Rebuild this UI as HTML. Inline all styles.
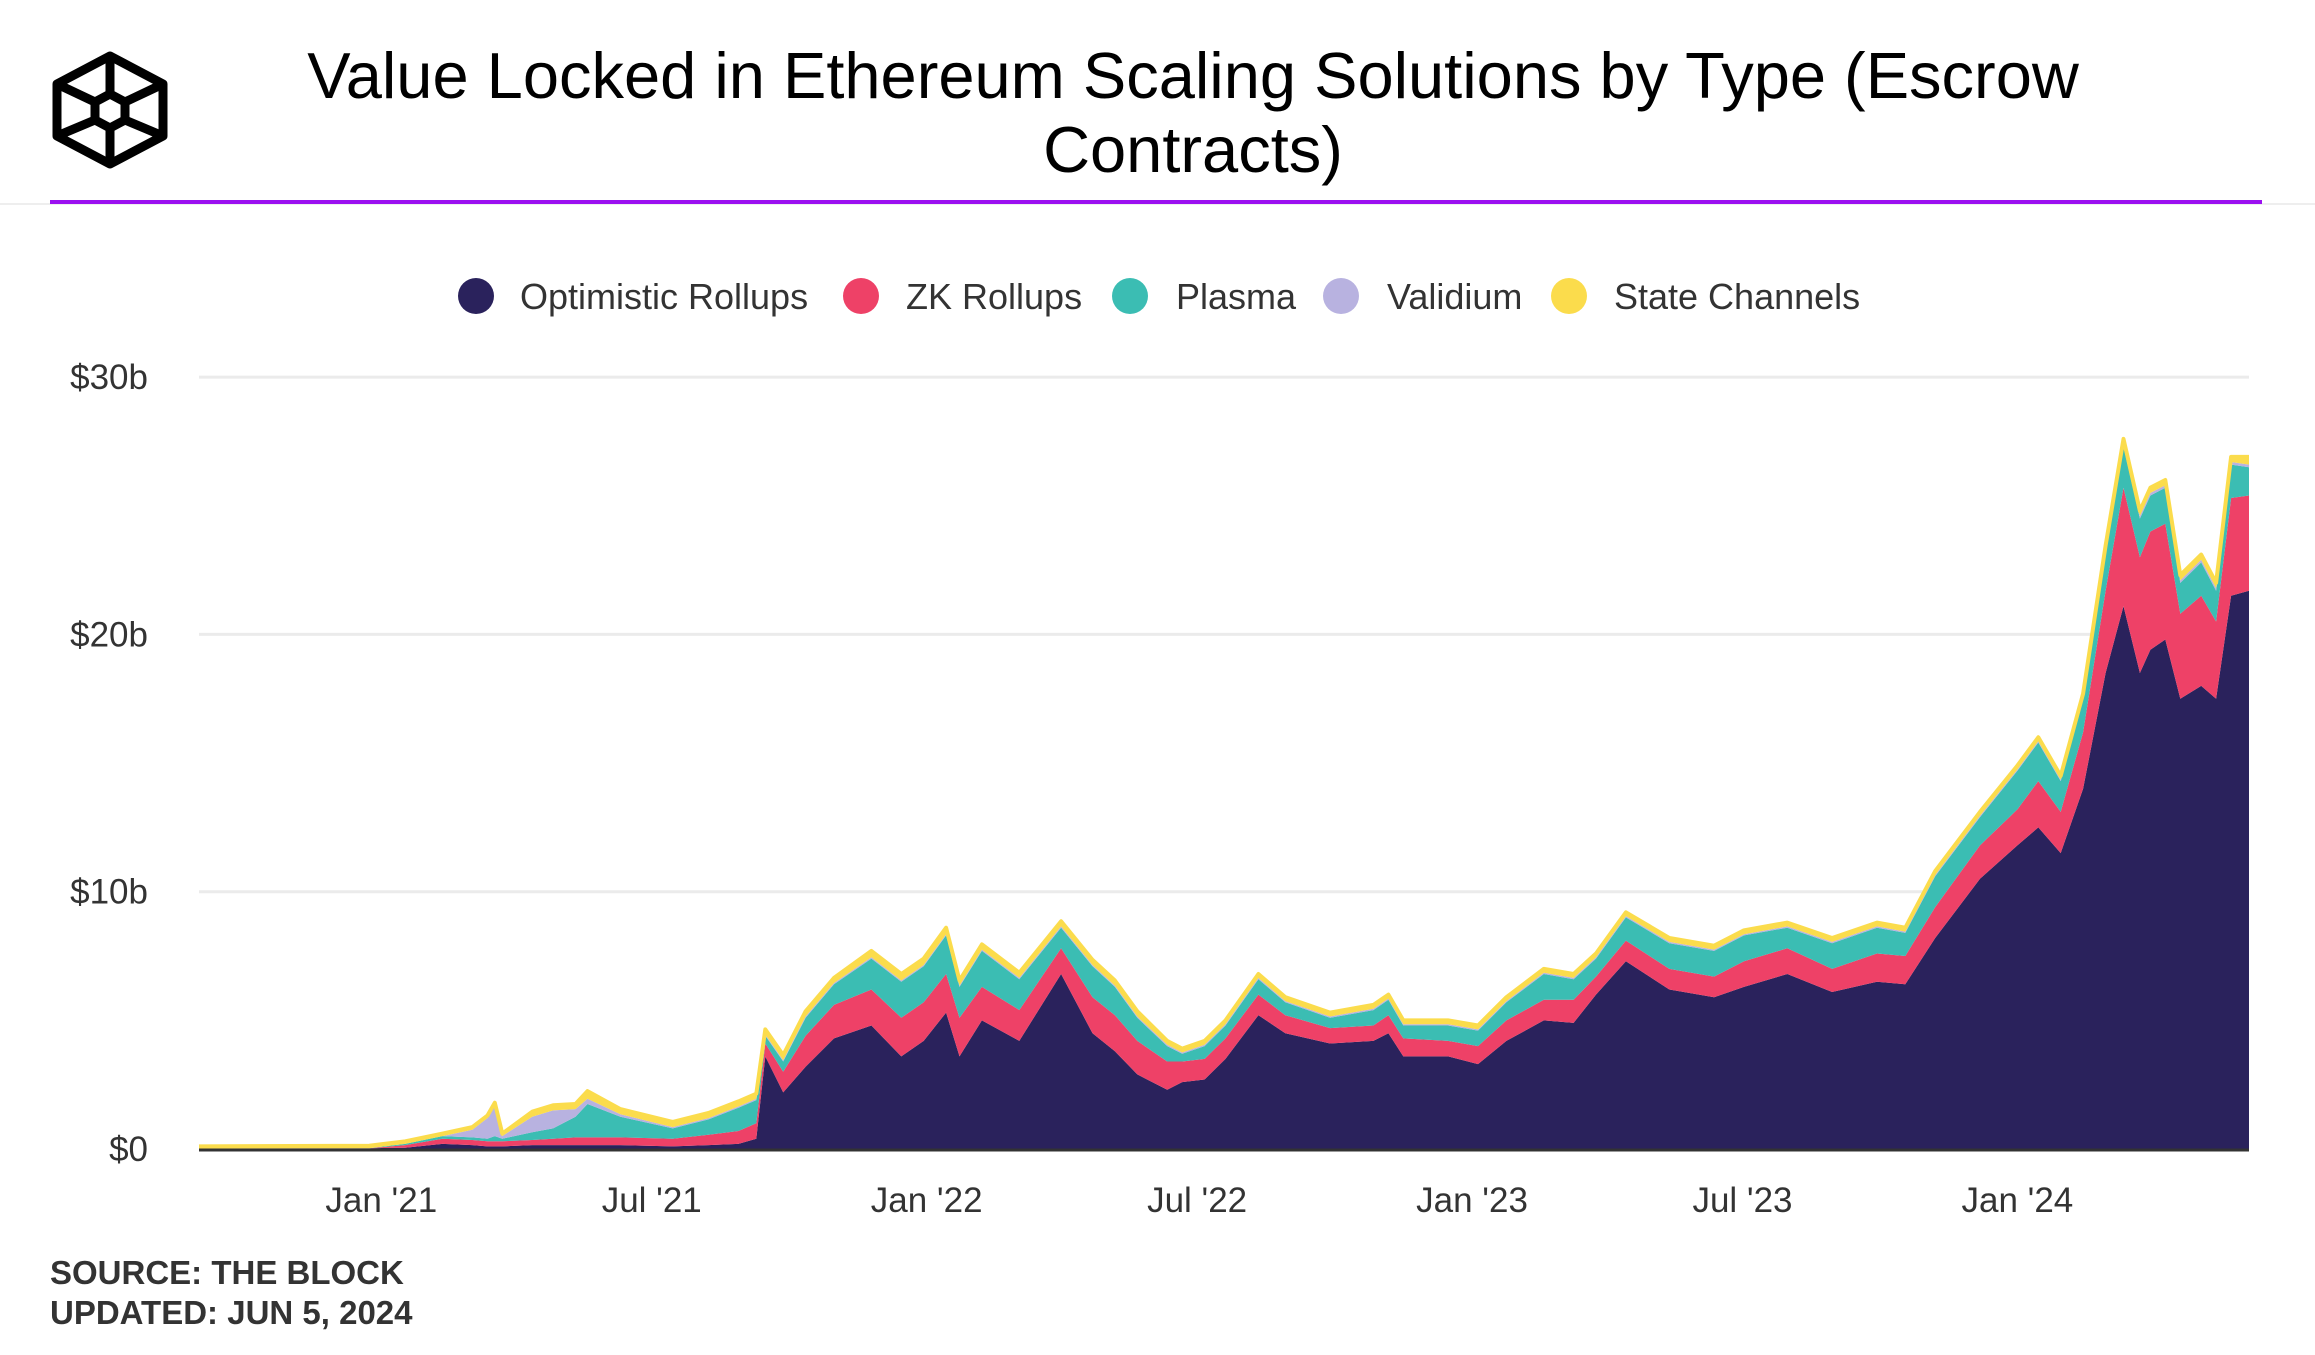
<!DOCTYPE html>
<html><head><meta charset="utf-8"><style>
body{margin:0;background:#fff;width:2315px;height:1350px;overflow:hidden;font-family:"Liberation Sans",sans-serif;}
</style></head><body>
<svg width="2315" height="1350" xmlns="http://www.w3.org/2000/svg">
<g fill="none" stroke="#000" stroke-width="9" stroke-linejoin="round">
<polygon points="110,56 163,84 163,136 110,164 57,136 57,84"/>
<line x1="110" y1="56" x2="110" y2="94"/><line x1="110" y1="128" x2="110" y2="164"/>
<line x1="57" y1="84" x2="95" y2="102"/><line x1="163" y1="84" x2="125" y2="102"/>
<line x1="57" y1="136" x2="95" y2="120"/><line x1="163" y1="136" x2="125" y2="120"/>
<polygon points="110,94 125,102 125,120 110,128 95,120 95,102" fill="#fff"/>
</g>
<text x="1193" y="98" text-anchor="middle" font-size="65" fill="#000">Value Locked in Ethereum Scaling Solutions by Type (Escrow</text>
<text x="1193" y="172" text-anchor="middle" font-size="65" fill="#000">Contracts)</text>
<line x1="0" y1="204" x2="2315" y2="204" stroke="#eee" stroke-width="2"/>
<line x1="50" y1="202" x2="2262" y2="202" stroke="#9b10f0" stroke-width="4"/>
<g font-size="36" fill="#333">
<g><circle cx="476" cy="296" r="18" fill="#2a225c"/><text x="520" y="309">Optimistic Rollups</text></g>
<g><circle cx="861" cy="296" r="18" fill="#ee4167"/><text x="906" y="309">ZK Rollups</text></g>
<g><circle cx="1130" cy="296" r="18" fill="#3bbdb3"/><text x="1176" y="309">Plasma</text></g>
<g><circle cx="1341" cy="296" r="18" fill="#b8b2e0"/><text x="1387" y="309">Validium</text></g>
<g><circle cx="1569" cy="296" r="18" fill="#fbdc4c"/><text x="1614" y="309">State Channels</text></g>
</g>
<g id="grid"></g><g id="areas"></g><g id="axes"></g>
<text x="50" y="1284" font-size="33" font-weight="bold" fill="#333">SOURCE: THE BLOCK</text>
<text x="50" y="1324" font-size="33" font-weight="bold" fill="#333">UPDATED: JUN 5, 2024</text>
</svg>
<script>
const dates=["2020-09-01","2020-12-24","2021-01-17","2021-02-11","2021-03-03","2021-03-13","2021-03-18","2021-03-23","2021-04-12","2021-04-26","2021-05-11","2021-05-19","2021-06-10","2021-07-15","2021-08-08","2021-08-28","2021-09-09","2021-09-15","2021-09-27","2021-10-12","2021-10-31","2021-11-25","2021-12-15","2021-12-30","2022-01-14","2022-01-23","2022-02-07","2022-03-04","2022-04-01","2022-04-22","2022-05-07","2022-05-22","2022-06-11","2022-06-21","2022-07-06","2022-07-20","2022-08-11","2022-08-29","2022-09-28","2022-10-27","2022-11-06","2022-11-16","2022-12-16","2023-01-05","2023-01-24","2023-02-18","2023-03-10","2023-03-25","2023-04-14","2023-05-13","2023-06-12","2023-07-02","2023-07-31","2023-08-30","2023-09-29","2023-10-18","2023-11-07","2023-12-07","2024-01-01","2024-01-15","2024-01-30","2024-02-14","2024-02-29","2024-03-12","2024-03-23","2024-03-30","2024-04-09","2024-04-19","2024-05-03","2024-05-13","2024-05-23","2024-06-04"];
const optimistic=[0.02,0.03,0.05,0.2,0.15,0.1,0.1,0.1,0.15,0.15,0.15,0.15,0.15,0.1,0.15,0.2,0.4,3.6,2.2,3.2,4.3,4.8,3.6,4.2,5.3,3.6,5.0,4.2,6.8,4.5,3.8,2.9,2.3,2.6,2.7,3.5,5.2,4.5,4.1,4.2,4.5,3.6,3.6,3.3,4.2,5.0,4.9,6.0,7.3,6.2,5.9,6.3,6.8,6.1,6.5,6.4,8.2,10.5,11.8,12.5,11.5,14.0,18.5,21.1,18.5,19.4,19.8,17.5,18.0,17.5,21.5,21.7];
const zk=[0,0,0.1,0.2,0.2,0.2,0.2,0.2,0.2,0.25,0.3,0.3,0.3,0.3,0.4,0.5,0.6,0.5,0.8,1.2,1.3,1.4,1.5,1.5,1.5,1.5,1.3,1.2,1.0,1.4,1.4,1.3,1.1,0.8,0.8,0.8,0.8,0.7,0.6,0.6,0.7,0.7,0.6,0.7,0.8,0.8,0.9,0.7,0.8,0.8,0.8,1.0,1.0,0.9,1.1,1.1,1.2,1.3,1.4,1.8,1.6,2.2,3.2,4.6,4.5,4.6,4.5,3.3,3.5,3.0,3.8,3.7];
const plasma=[0,0,0.05,0.1,0.1,0.1,0.2,0.1,0.3,0.4,0.8,1.3,0.8,0.4,0.6,0.9,0.9,0.3,0.4,0.7,0.8,1.2,1.4,1.4,1.5,1.2,1.4,1.2,0.8,1.2,1.1,0.9,0.6,0.3,0.5,0.5,0.6,0.5,0.4,0.6,0.6,0.5,0.6,0.6,0.7,1.0,0.8,0.7,0.9,1.0,1.0,1.0,0.8,1.0,1.0,0.9,1.2,1.1,1.5,1.5,1.2,1.3,1.5,1.6,1.5,1.4,1.4,1.2,1.3,1.2,1.3,1.1];
const validium=[0,0,0,0,0.3,0.8,1.2,0.1,0.6,0.7,0.3,0.2,0.1,0.05,0.05,0.05,0.05,0.05,0.05,0.05,0.05,0.05,0.05,0.05,0.05,0.05,0.05,0.05,0.05,0.05,0.05,0.05,0.05,0.05,0.05,0.05,0.05,0.05,0.05,0.05,0.05,0.05,0.05,0.05,0.05,0.05,0.05,0.05,0.05,0.05,0.05,0.05,0.05,0.05,0.05,0.05,0.05,0.05,0.05,0.05,0.05,0.05,0.05,0.1,0.1,0.1,0.1,0.1,0.1,0.1,0.1,0.1];
const stateChannels=[0.08,0.1,0.1,0.1,0.1,0.1,0.1,0.1,0.2,0.2,0.2,0.3,0.2,0.2,0.2,0.2,0.2,0.2,0.2,0.2,0.2,0.25,0.25,0.25,0.25,0.2,0.2,0.2,0.2,0.2,0.2,0.2,0.15,0.15,0.15,0.15,0.15,0.15,0.15,0.15,0.15,0.15,0.15,0.15,0.15,0.15,0.15,0.15,0.15,0.15,0.15,0.15,0.15,0.15,0.15,0.15,0.15,0.15,0.15,0.15,0.15,0.15,0.2,0.2,0.2,0.2,0.2,0.2,0.2,0.2,0.2,0.3];
const yTicks=[0,10,20,30];
const yTickLabels=["$0","$10b","$20b","$30b"];
const xTicks=["2021-01-01","2021-07-01","2022-01-01","2022-07-01","2023-01-01","2023-07-01","2024-01-01"];
const xTickLabels=["Jan '21","Jul '21","Jan '22","Jul '22","Jan '23","Jul '23","Jan '24"];

const NS="http://www.w3.org/2000/svg";
const X0=199,X1=2249,Y0=1149,PXB=25.73;
const t0=Date.parse("2020-09-01"),t1=Date.parse("2024-06-04");
function xScale(d){return X0+(Date.parse(d)-t0)/(t1-t0)*(X1-X0);}
function yScale(v){return Y0-v*PXB;}
function mk(tag,attrs,parent){const e=document.createElementNS(NS,tag);for(const k in attrs)e.setAttribute(k,attrs[k]);parent.appendChild(e);return e;}
const grid=document.getElementById('grid'),areas=document.getElementById('areas'),axes=document.getElementById('axes');
yTicks.forEach((v,i)=>{
  if(v>0){const g=mk('line',{x1:X0,x2:X1,y1:yScale(v),y2:yScale(v),stroke:'#ebebeb','stroke-width':3},grid);
  
  }
  const t=mk('text',{x:148,y:yScale(v)+12,'text-anchor':'end','font-size':35,fill:'#333'},axes);
  t.textContent=yTickLabels[i];
  
  
});
xTicks.forEach((d,i)=>{
  const t=mk('text',{x:xScale(d),y:1212,'text-anchor':'middle','font-size':35,fill:'#333'},axes);
  t.textContent=xTickLabels[i];
  
  
});
const series=[["optimistic",optimistic,"#2a225c"],["zk",zk,"#ee4167"],["plasma",plasma,"#3bbdb3"],["validium",validium,"#b8b2e0"],["state-channels",stateChannels,"#fbdc4c"]];
let base=dates.map(()=>0);
let topPts="";
series.forEach(([name,vals,col])=>{
  const top=base.map((b,i)=>b+vals[i]);
  let d="M"+dates.map((dt,i)=>xScale(dt).toFixed(1)+","+yScale(top[i]).toFixed(1)).join("L");
  for(let i=dates.length-1;i>=0;i--)d+="L"+xScale(dates[i]).toFixed(1)+","+yScale(base[i]).toFixed(1);
  d+="Z";
  const p=mk('path',{d:d,fill:col},areas);
  
  
  topPts=dates.map((dt,i)=>xScale(dt).toFixed(1)+","+yScale(top[i]).toFixed(1)).join(" ");
  base=top;
});
const tl=mk('polyline',{points:topPts,fill:'none',stroke:'#fbdc4c','stroke-width':4,'stroke-linejoin':'round'},areas);


const ax=mk('line',{x1:X0,x2:X1,y1:Y0+1,y2:Y0+1,stroke:'#333','stroke-width':3},axes);


</script>
</body></html>
